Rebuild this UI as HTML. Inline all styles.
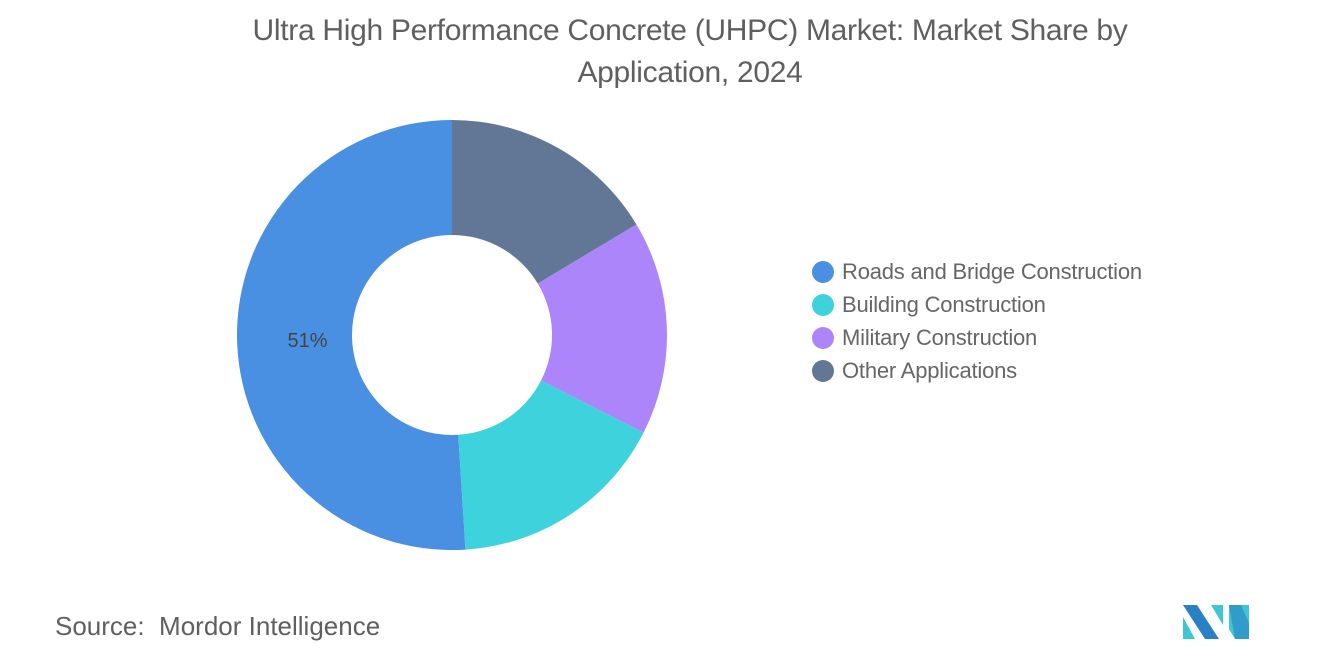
<!DOCTYPE html>
<html><head><meta charset="utf-8"><style>
body{margin:0;width:1320px;height:665px;background:#fff;font-family:"Liberation Sans",sans-serif;overflow:hidden;position:relative}
#title{position:absolute;left:0;width:1380px;top:10px;text-align:center;font-size:30px;line-height:42px;color:#5f5f5f;letter-spacing:-0.3px}
.leg{position:absolute;left:812px;font-size:22px;color:#666;display:flex;align-items:center;letter-spacing:-0.2px}
.leg span{width:22px;height:22px;border-radius:50%;display:inline-block;margin-right:8px}
#src{position:absolute;left:55px;top:611px;font-size:26px;color:#5f5f5f}
</style></head><body>
<div id="title">Ultra High Performance Concrete (UHPC) Market: Market Share by<br>Application, 2024</div>
<svg id="chart" width="1320" height="665" style="position:absolute;left:0;top:0"></svg>
<div class="leg" style="top:259px"><span style="background:#4a90e2"></span>Roads and Bridge Construction</div>
<div class="leg" style="top:292px"><span style="background:#3ed2dc"></span>Building Construction</div>
<div class="leg" style="top:325px"><span style="background:#ad85fb"></span>Military Construction</div>
<div class="leg" style="top:358px"><span style="background:#627795"></span>Other Applications</div>
<div id="src">Source:&nbsp; Mordor Intelligence</div>
<svg width="70" height="40" style="position:absolute;left:1183px;top:603px">
<polygon points="0,2 14,2 36,36 22,36" fill="#2a80c4"/><polygon points="0,14 12,36 0,36" fill="#3ec6d4"/>
<polygon points="28,2 40,2 40,22" fill="#3ec6d4"/><polygon points="46,2 66,2 66,36 52,36 46,26" fill="#3ec6d4"/><polygon points="46,2 58,2 66,20 66,36 52,36" fill="#2a80c4" opacity="0.6"/>
</svg>
<script>
const categories=["Roads and Bridge Construction","Building Construction","Military Construction","Other Applications"];
const values=[51,16.5,16.1,16.4];
const colors=["#4a90e2","#3ed2dc","#ad85fb","#627795"];
const labels=["51%","","",""];
const svg=document.getElementById('chart');
const cx=452,cy=335,R=215,r=100;
const total=values.reduce((a,b)=>a+b,0);
function pt(a,rad){return [cx+rad*Math.sin(a),cy-rad*Math.cos(a)];}
let a0=0;
values.forEach((v,i)=>{
  const sweep=v/total*2*Math.PI;
  const s=-a0,e=-(a0+sweep);
  const [x1,y1]=pt(s,R),[x2,y2]=pt(e,R),[x3,y3]=pt(e,r),[x4,y4]=pt(s,r);
  const lg=sweep>Math.PI?1:0;
  const p=document.createElementNS("http://www.w3.org/2000/svg","path");
  p.setAttribute('d',`M${x1},${y1} A${R},${R} 0 ${lg} 0 ${x2},${y2} L${x3},${y3} A${r},${r} 0 ${lg} 1 ${x4},${y4}Z`);
  p.setAttribute('fill',colors[i]);
  
  
  svg.appendChild(p);
  if(labels[i]){
    const [lx,ly]=pt(-(a0+sweep/2),(R+r)/2);
    const t=document.createElementNS("http://www.w3.org/2000/svg","text");
    t.setAttribute('x',lx+13);t.setAttribute('y',ly+7);t.setAttribute('text-anchor','middle');
    t.setAttribute('font-size','20');t.setAttribute('fill','#444');t.setAttribute('font-family','Liberation Sans, sans-serif');
    t.textContent=labels[i];
    
    
    svg.appendChild(t);
  }
  a0+=sweep;
});
</script>
</body></html>
